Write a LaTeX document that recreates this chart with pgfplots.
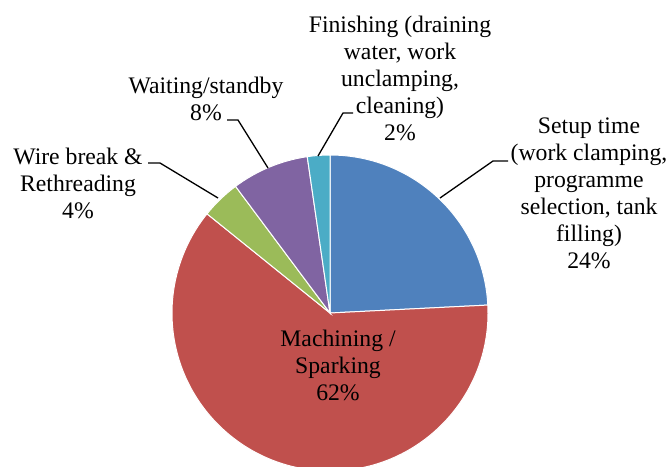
\documentclass[border=0pt]{standalone}
\usepackage{fontspec}
\setmainfont{Liberation Serif}
\usepackage{pgfplots}
\usepackage{pgfplotstable}
\pgfplotsset{compat=1.18}

\definecolor{pieblue}{HTML}{4F81BD}
\definecolor{piered}{HTML}{C0504D}
\definecolor{piegreen}{HTML}{9BBB59}
\definecolor{piepurple}{HTML}{8064A2}
\definecolor{pieaqua}{HTML}{4BACC6}

% anchor=base sits on the last line's baseline
\tikzset{lbl/.style={font=\fontsize{23.7bp}{27bp}\selectfont, align=center, anchor=base, inner sep=0pt}}

% share of time per activity (%), clockwise from 12 o'clock
\pgfplotstableread{
value color
24.2  pieblue
61.6  piered
4.0   piegreen
7.9   piepurple
2.3   pieaqua
}\piedata

\begin{document}
\begin{tikzpicture}
\useasboundingbox (0,0) rectangle (667bp,467bp);
\clip (0,0) rectangle (667bp,467bp);
\begin{axis}[
    hide axis,
    scale only axis,
    width=667bp, height=467bp,
    xmin=0, xmax=667,
    ymin=0, ymax=467,
    y dir=reverse,
    clip=false,
]
\pgfmathsetmacro{\startang}{90}
\pgfplotsforeachungrouped \i in {0,...,4}{%
  \pgfplotstablegetelem{\i}{value}\of\piedata
  \pgfmathsetmacro{\endang}{\startang-3.6*\pgfplotsretval}%
  \pgfplotstablegetelem{\i}{color}\of\piedata
  \edef\slice{\noexpand\fill[fill=\pgfplotsretval, draw=white, line width=1bp]
    (axis cs:330,313) -- ++(\startang:158bp)
    arc[start angle=\startang, end angle=\endang, radius=158bp] -- cycle;}%
  \slice
  \global\let\startang\endang
}

% leader lines
\draw[line width=1.3bp] (axis cs:508,161) -- (axis cs:493,161) -- (axis cs:440,198);
\draw[line width=1.3bp] (axis cs:148,163) -- (axis cs:160,163) -- (axis cs:218,198);
\draw[line width=1.3bp] (axis cs:227,120) -- (axis cs:238,120) -- (axis cs:268,168);
\draw[line width=1.3bp] (axis cs:353,113) -- (axis cs:343,113) -- (axis cs:318,156);

% labels
\node[lbl] at (axis cs:589,268) {Setup time\\(work clamping,\\programme\\selection, tank\\filling)\\24\%};
\node[lbl] at (axis cs:338,400) {Machining /\\Sparking\\62\%};
\node[lbl] at (axis cs:78,218) {Wire break \&\\Rethreading\\4\%};
\node[lbl] at (axis cs:206,120) {Waiting/standby\\8\%};
\node[lbl] at (axis cs:400,140) {Finishing (draining\\water, work\\unclamping,\\cleaning)\\2\%};
\end{axis}
\end{tikzpicture}
\end{document}
